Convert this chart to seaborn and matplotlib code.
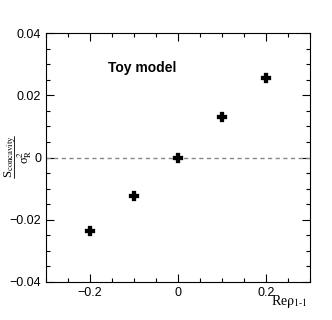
import matplotlib
matplotlib.use("Agg")
import matplotlib.pyplot as plt
import seaborn as sns
import pandas as pd
from matplotlib.ticker import MultipleLocator
from matplotlib.lines import Line2D

x_vals = [-0.2, -0.1, 0.0, 0.1, 0.2]
y_vals = [-0.0235, -0.0123, 0.0, 0.0129, 0.0257]
x_ticks = [-0.2, 0.0, 0.2]
y_ticks = [-0.04, -0.02, 0.0, 0.02, 0.04]

sns.set_theme(style="ticks")
plt.rcParams['font.family'] = ['Liberation Sans', 'DejaVu Sans']
plt.rcParams['mathtext.fontset'] = 'stix'

df = pd.DataFrame({"x": x_vals, "y": y_vals})

W, H = 332, 320
fig = plt.figure(figsize=(W/100, H/100), dpi=100)
ax = fig.add_axes([46/W, 1 - 282/H, (310-46)/W, (282-33)/H])

ax.axhline(0, color="#888888", lw=1.0, ls=(0, (3, 2.5)), zorder=1)
sns.scatterplot(data=df, x="x", y="y", marker="P", s=55, color="black",
                edgecolor="black", linewidth=0.2, ax=ax, zorder=3, legend=False)

ax.set_xlim(-0.3, 0.3)
ax.set_ylim(-0.04, 0.04)
ax.set_xticks(x_ticks)
ax.set_xticklabels(["\u22120.2", "0", "0.2"])
ax.set_yticks(y_ticks)
ax.set_yticklabels(["\u22120.04", "\u22120.02", "0", "0.02", "0.04"])
ax.xaxis.set_minor_locator(MultipleLocator(0.05))
ax.yaxis.set_minor_locator(MultipleLocator(0.005))
ax.tick_params(which="both", direction="in", top=True, right=True,
               labelsize=9, colors="black", width=0.8)
ax.tick_params(which="major", length=6)
ax.tick_params(which="minor", length=3)
for s in ax.spines.values():
    s.set_linewidth(0.8)
    s.set_color("black")

ax.set_xlabel("")
ax.set_ylabel("")
serif = ['Liberation Serif', 'DejaVu Serif']
fig.text(271/W, 1 - 302/H, r"Re$\mathrm{\rho}_{\mathrm{1\text{-}1}}$",
         ha="left", va="center", fontsize=10, color="black", family=serif)

# y-axis label as a fraction: numerator, bar, denominator
fig.text(2/W, 1 - 157/H, r"S$_{\mathrm{concavity}}$",
         rotation=90, ha="left", va="center", fontsize=9, color="black",
         family=serif)
fig.add_artist(Line2D([13.5/W, 13.5/W], [1 - 136/H, 1 - 178/H],
                      color="black", lw=0.6, transform=fig.transFigure))
fig.text(15/W, 1 - 157/H, r"σ$_{\mathrm{R}}^{2}$",
         rotation=90, ha="left", va="center", fontsize=9, color="black",
         family=serif)

fig.text(142/W, 1 - 68/H, "Toy model", fontweight="bold", fontsize=10,
         ha="center", va="center", color="black")

fig.savefig("out.png", dpi=100)
